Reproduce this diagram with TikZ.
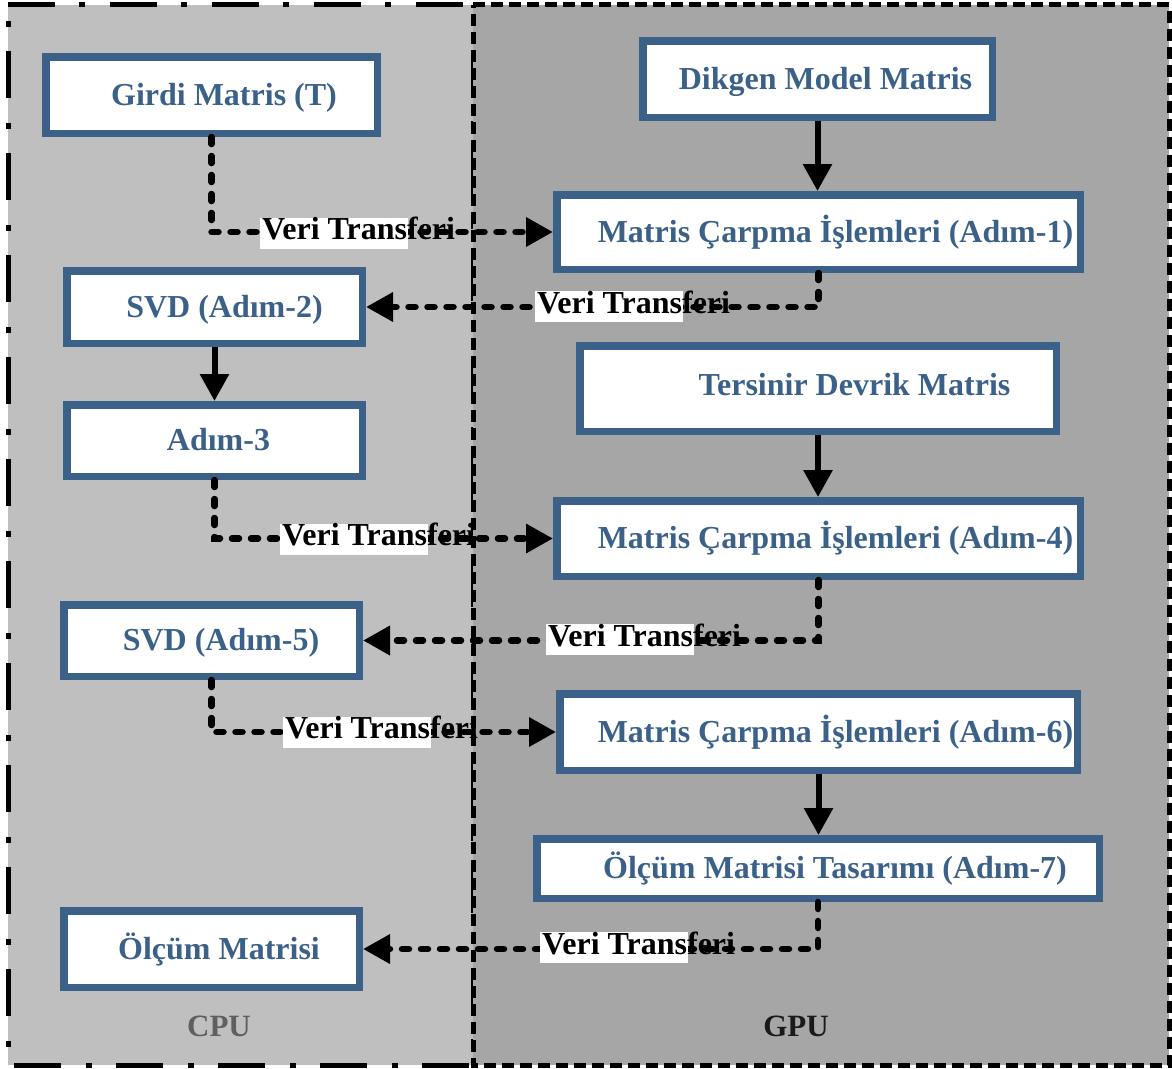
\documentclass[tikz,border=0pt]{standalone}
\usepackage{fontspec}
\setmainfont{Liberation Serif}
\usetikzlibrary{arrows.meta}
\definecolor{boxblue}{RGB}{59,97,137}
\definecolor{cpugray}{RGB}{191,191,191}
\definecolor{gpugray}{RGB}{166,166,166}
\definecolor{cpulabel}{RGB}{95,95,95}
\definecolor{gpulabel}{RGB}{26,26,26}

\tikzset{
  stepbox/.style={draw=boxblue, line width=7.5pt, fill=white, inner sep=0pt,
    text height=20pt, text depth=0pt,
    text=boxblue, font=\fontsize{32}{36}\selectfont\bfseries},
  xfer/.style={line width=6.5pt, dash pattern=on 7pt off 12pt, line cap=round,
    -{Triangle[length=27pt,width=28pt]}},
  flow/.style={line width=6pt, -{Triangle[length=27pt,width=28pt]}},
  xferlbl/.style={fill=white, inner sep=0pt, text height=22pt, text depth=9pt,
    anchor=west, font=\fontsize{32}{36}\selectfont\bfseries},
  unitlbl/.style={font=\fontsize{31}{34}\selectfont\bfseries},
}

\begin{document}
\begin{tikzpicture}[x=1pt,y=-1pt]
\useasboundingbox (0,0) rectangle (1172,1068);
\fill[white] (0,0) rectangle (1172,1068);

% CPU panel
\fill[cpugray] (8,4.5) rectangle (473,1065);
\draw[line width=5pt, dash pattern=on 47pt off 24pt on 6pt off 25pt]
  (8,4.5) -- (473,4.5) -- (473,1065) -- (8,1065) -- cycle;
% GPU panel
\fill[gpugray] (473,4.5) rectangle (1169,1065);
\draw[line width=5pt, dash pattern=on 12pt off 6pt]
  (473,4.5) -- (1169,4.5) -- (1169,1065) -- (473,1065) -- cycle;

\node[unitlbl, text=cpulabel] (cpu) at (219,1026) {CPU};
\node[unitlbl, text=gpulabel] (gpu) at (796,1026) {GPU};

% processing steps
\node[stepbox, minimum width=331.5pt, minimum height=76.5pt] (b1) at (211.5,95)
  {\hspace*{25pt}Girdi Matris (T)};
\node[stepbox, minimum width=349.5pt, minimum height=76.5pt] (b2) at (817.5,79)
  {\hspace*{16pt}Dikgen Model Matris};
\node[stepbox, minimum width=523.5pt, minimum height=74.5pt] (b3) at (818.5,232)
  {\hspace*{34pt}Matris Çarpma İşlemleri (Adım-1)};
\node[stepbox, minimum width=295.5pt, minimum height=72.5pt] (b4) at (214.5,307)
  {\hspace*{20pt}SVD (Adım-2)};
\node[stepbox, minimum width=476.5pt, minimum height=85.5pt, text height=14pt] (b5) at (818,388.5)
  {\hspace*{73pt}Tersinir Devrik Matris};
\node[stepbox, minimum width=295.5pt, minimum height=71.5pt] (b6) at (214.5,440.5)
  {\hspace*{8pt}Adım-3};
\node[stepbox, minimum width=523.5pt, minimum height=75.5pt] (b7) at (818.5,538.5)
  {\hspace*{34pt}Matris Çarpma İşlemleri (Adım-4)};
\node[stepbox, minimum width=295.5pt, minimum height=71.5pt] (b8) at (211.5,640.5)
  {\hspace*{19pt}SVD (Adım-5)};
\node[stepbox, minimum width=517.5pt, minimum height=76.5pt] (b9) at (818.5,732)
  {\hspace*{34pt}Matris Çarpma İşlemleri (Adım-6)};
\node[stepbox, minimum width=562.5pt, minimum height=59.5pt] (b10) at (818,868.5)
  {\hspace*{34pt}Ölçüm Matrisi Tasarımı (Adım-7)};
\node[stepbox, minimum width=295.5pt, minimum height=76.5pt] (b11) at (211.5,949)
  {\hspace*{15pt}Ölçüm Matrisi};

% solid flow arrows
\draw[flow] (b2.south) -- (b2.south |- b3.north);
\draw[flow] (b4.south) -- (b4.south |- b6.north);
\draw[flow] (b5.south) -- (b5.south |- b7.north);
\draw[flow] (b9.south) -- (b9.south |- b10.north);

% data transfers between CPU and GPU
\draw[xfer] (b1.south) |- (b3.west);
\draw[xfer] (b3.south) |- (b4.east);
\draw[xfer] (b6.south) |- (b7.west);
\draw[xfer] (b7.south) |- (b8.east);
\draw[xfer] (b8.south) |- (b9.west);
\draw[xfer] (b10.south) |- (b11.east);

\node[xferlbl] (l1) at (260,233) {\makebox[148pt][l]{\hspace{2pt}Veri Transferi}};
\node[xferlbl] (l2) at (535,306.5) {\makebox[148pt][l]{\hspace{2pt}Veri Transferi}};
\node[xferlbl] (l3) at (280,539) {\makebox[148pt][l]{\hspace{2pt}Veri Transferi}};
\node[xferlbl] (l4) at (546,639.5) {\makebox[148pt][l]{\hspace{2pt}Veri Transferi}};
\node[xferlbl] (l5) at (283,732) {\makebox[148pt][l]{\hspace{2pt}Veri Transferi}};
\node[xferlbl] (l6) at (540,947.5) {\makebox[148pt][l]{\hspace{2pt}Veri Transferi}};
\end{tikzpicture}
\end{document}
